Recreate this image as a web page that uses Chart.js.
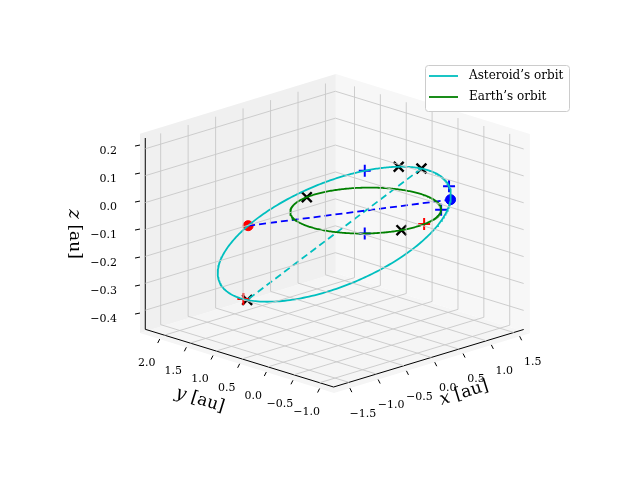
<!DOCTYPE html>
<html>
<head>
<meta charset="utf-8">
<script src="https://cdn.jsdelivr.net/npm/chart.js@4"></script>
<style>
  body { margin: 0; background: #fff; }
  canvas { display: block; }
</style>
</head>
<body>
<canvas id="orbitChart" width="640" height="480"></canvas>
<script>
// axis limits and ticks
const xLim = [-1.78, 1.68];
const yLim = [-1.27, 2.37];
const zLim = [-0.471, 0.24];
const xTicks = [-1.5, -1.0, -0.5, 0.0, 0.5, 1.0, 1.5];
const yTicks = [-1.0, -0.5, 0.0, 0.5, 1.0, 1.5, 2.0];
const zTicks = [-0.4, -0.3, -0.2, -0.1, 0.0, 0.1, 0.2];

// orbits: a [au], e, i, Omega, omega [deg]
const asteroidElements = [1.6, 0.36, 166.7, -23, 63.4];
const earthRadius = [1.0];

// marker positions (true anomaly for asteroid, angle for earth) [deg]
const asteroidCross = [21.5, 0, 180];
const asteroidPlus = [47, -44.6];
const asteroidRedPlus = [178];
const earthCross = [98, -105];
const earthPlus = [-134, -44];
const earthRedPlus = [-82.5];

// screen projection of the box (pixel per unit, from the corner xmin,ymin,zmin)
const origin = [334, 393];
const ex = [56.6, -17.3];
const ey = [-53.3, -16.5];
const ez = [0, -280];

function proj(x, y, z) {
    const dx = x - xLim[0], dy = y - yLim[0], dz = z - zLim[0];
    return {
        x: origin[0] + dx * ex[0] + dy * ey[0] + dz * ez[0],
        y: origin[1] + dx * ex[1] + dy * ey[1] + dz * ez[1]
    };
}

const rad = d => d * Math.PI / 180;

function asteroidPos(nuDeg) {
    const [a, e, inc, Om, om] = asteroidElements;
    const nu = rad(nuDeg);
    const r = a * (1 - e * e) / (1 + e * Math.cos(nu));
    const u = rad(om) + nu, O = rad(Om), I = rad(inc);
    return proj(
        r * (Math.cos(O) * Math.cos(u) - Math.sin(O) * Math.sin(u) * Math.cos(I)),
        r * (Math.sin(O) * Math.cos(u) + Math.cos(O) * Math.sin(u) * Math.cos(I)),
        r * Math.sin(u) * Math.sin(I)
    );
}

function earthPos(deg) {
    return proj(earthRadius[0] * Math.cos(rad(deg)), earthRadius[0] * Math.sin(rad(deg)), 0);
}

const curve = (fn) => Array.from({length: 361}, (_, k) => fn(k));

function line(pts, color, width, dash) {
    return {
        data: pts, showLine: true, borderColor: color, borderWidth: width,
        borderDash: dash || [], pointRadius: 0, fill: false, tension: 0
    };
}
function markers(pts, style, color, size, width) {
    return {
        data: pts, showLine: false, pointStyle: style, pointRadius: size,
        borderColor: color, backgroundColor: color, pointBorderWidth: width
    };
}

// grid
const [x0, x1] = xLim, [y0, y1] = yLim, [z0, z1] = zLim;
const datasets = [];
const gridColor = '#c8c8c8';
xTicks.forEach(t => {
    datasets.push(line([proj(t, y0, z0), proj(t, y1, z0), proj(t, y1, z1)], gridColor, 0.9));
});
yTicks.forEach(t => {
    datasets.push(line([proj(x0, t, z0), proj(x1, t, z0), proj(x1, t, z1)], gridColor, 0.9));
});
zTicks.forEach(t => {
    datasets.push(line([proj(x0, y1, t), proj(x1, y1, t), proj(x1, y0, t)], gridColor, 0.9));
});

// axis lines
datasets.push(line([proj(x0, y0, z0), proj(x1, y0, z0)], '#000', 1));
datasets.push(line([proj(x0, y0, z0), proj(x0, y1, z0)], '#000', 1));
datasets.push(line([proj(x0, y1, z0), proj(x0, y1, z1)], '#000', 1));

// orbits
const om = asteroidElements[4];
datasets.push(line(curve(k => asteroidPos(k)), '#00bfbf', 1.8));
datasets.push(line(curve(k => earthPos(k)), '#008000', 1.8));
datasets.push(line([asteroidPos(180 - om), asteroidPos(-om)], '#0000ff', 1.8, [7, 4]));
datasets.push(line([asteroidPos(0), asteroidPos(180)], '#00bfbf', 1.8, [7, 4]));

// markers
datasets.push(markers(asteroidRedPlus.map(asteroidPos).concat(earthRedPlus.map(earthPos)), 'cross', '#ff0000', 6, 2));
datasets.push(markers(asteroidPlus.map(asteroidPos).concat(earthPlus.map(earthPos)), 'cross', '#0000ff', 6, 2));
datasets.push(markers(asteroidCross.map(asteroidPos).concat(earthCross.map(earthPos)), 'crossRot', '#000000', 7, 2.4));
datasets.push(markers([asteroidPos(180 - om)], 'circle', '#ff0000', 5, 1));
datasets.push(markers([asteroidPos(-om)], 'circle', '#0000ff', 5, 1));

const fmt = v => (v < 0 ? '\u2212' : '') + Math.abs(v).toFixed(1);
const serif = '"DejaVu Serif", "Liberation Serif", serif';

// grey panes behind everything
const panePlugin = {
    id: 'panes',
    beforeDatasetsDraw(chart) {
        const ctx = chart.ctx;
        const panes = [
            [[x0, y0, z0], [x1, y0, z0], [x1, y1, z0], [x0, y1, z0], '#f5f5f5'],
            [[x0, y1, z0], [x1, y1, z0], [x1, y1, z1], [x0, y1, z1], '#f0f0f0'],
            [[x1, y0, z0], [x1, y1, z0], [x1, y1, z1], [x1, y0, z1], '#f7f7f7']
        ];
        ctx.save();
        panes.forEach(pn => {
            ctx.fillStyle = pn[4];
            ctx.beginPath();
            pn.slice(0, 4).forEach((c, k) => {
                const p = proj(c[0], c[1], c[2]);
                if (k === 0) ctx.moveTo(p.x, p.y); else ctx.lineTo(p.x, p.y);
            });
            ctx.closePath();
            ctx.fill();
        });
        ctx.restore();
    }
};

// ticks, axis labels and legend
const decorPlugin = {
    id: 'decor',
    afterDatasetsDraw(chart) {
        const ctx = chart.ctx;
        ctx.save();
        ctx.fillStyle = '#000';
        ctx.strokeStyle = '#000';
        ctx.lineWidth = 1;
        ctx.font = '11px ' + serif;
        ctx.textAlign = 'center';
        ctx.textBaseline = 'middle';
        xTicks.forEach(t => {
            const p = proj(t, y0, z0);
            ctx.beginPath(); ctx.moveTo(p.x, p.y); ctx.lineTo(p.x + 2, p.y + 4); ctx.stroke();
            ctx.fillText(fmt(t), p.x + 13, p.y + 26);
        });
        yTicks.forEach(t => {
            const p = proj(x0, t, z0);
            ctx.beginPath(); ctx.moveTo(p.x, p.y); ctx.lineTo(p.x - 2, p.y + 4); ctx.stroke();
            ctx.fillText(fmt(t), p.x - 13, p.y + 24);
        });
        ctx.textAlign = 'right';
        zTicks.forEach(t => {
            const p = proj(x0, y1, t);
            ctx.beginPath(); ctx.moveTo(p.x, p.y); ctx.lineTo(p.x - 5, p.y + 1); ctx.stroke();
            ctx.fillText(fmt(t), p.x - 23, p.y + 6);
        });

        const label = (v, x, y, ang) => {
            ctx.save(); ctx.translate(x, y); ctx.rotate(ang);
            ctx.font = 'italic 18px ' + serif;
            const w1 = ctx.measureText(v + ' ').width;
            ctx.font = '17px ' + serif;
            const w2 = ctx.measureText('[au]').width;
            const s = -(w1 + w2) / 2;
            ctx.textAlign = 'left';
            ctx.font = 'italic 18px ' + serif;
            ctx.fillText(v, s, 0);
            ctx.font = '17px ' + serif;
            ctx.fillText('[au]', s + w1, 0);
            ctx.restore();
        };
        label('x', 464, 393, -0.30);
        label('y', 200, 400, 0.30);
        label('z', 74, 234, Math.PI / 2);

        // legend
        ctx.fillStyle = '#fff';
        ctx.strokeStyle = '#cccccc';
        ctx.lineWidth = 1;
        ctx.beginPath();
        ctx.roundRect(425.5, 65.5, 144, 46, 3);
        ctx.fill(); ctx.stroke();
        ctx.lineWidth = 1.8;
        [['#00bfbf', 'Asteroid\u2019s orbit', 76], ['#008000', 'Earth\u2019s orbit', 97]].forEach(([c, t, y]) => {
            ctx.strokeStyle = c;
            ctx.beginPath(); ctx.moveTo(429, y); ctx.lineTo(458, y); ctx.stroke();
            ctx.fillStyle = '#000';
            ctx.font = '12px ' + serif;
            ctx.textAlign = 'left';
            ctx.fillText(t, 469, y);
        });
        ctx.restore();
    }
};

new Chart(document.getElementById('orbitChart'), {
    type: 'scatter',
    data: { datasets: datasets },
    options: {
        responsive: false,
        animation: false,
        layout: { padding: 0 },
        scales: {
            x: { type: 'linear', min: 0, max: 640, display: false },
            y: { type: 'linear', min: 0, max: 480, reverse: true, display: false }
        },
        plugins: { legend: { display: false }, tooltip: { enabled: false } }
    },
    plugins: [panePlugin, decorPlugin]
});
</script>
</body>
</html>
